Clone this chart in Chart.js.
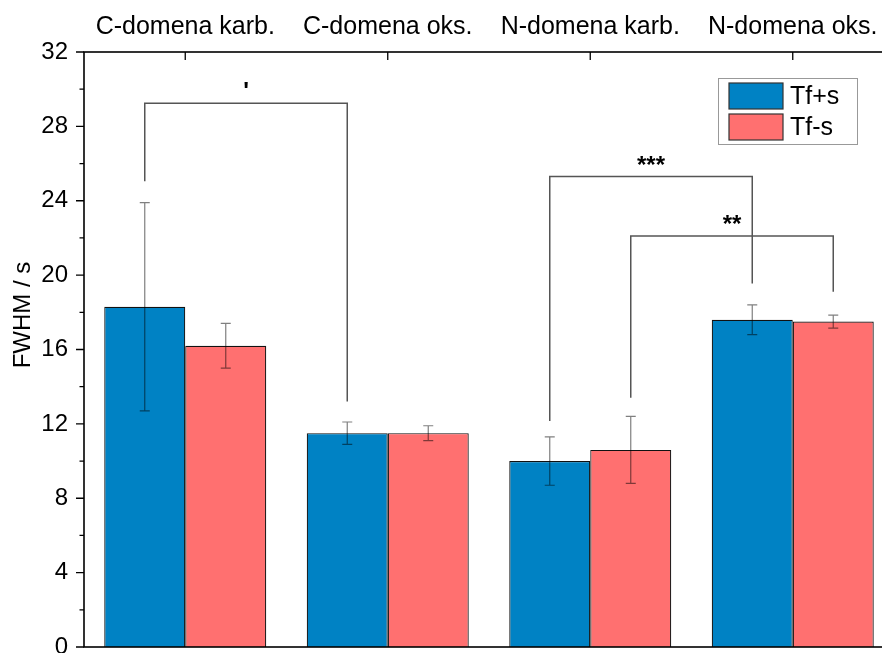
<!DOCTYPE html>
<html>
<head>
<meta charset="utf-8">
<script src="https://cdn.jsdelivr.net/npm/chart.js@4/dist/chart.umd.min.js"></script>
<style>
html, body { margin: 0; padding: 0; background: #fff; overflow: hidden; }
#wrap { width: 882px; height: 653px; overflow: hidden; }
</style>
</head>
<body>
<div id="wrap"><canvas id="fwhm-chart" width="900" height="680"></canvas></div>
<script>
const categories = ['C-domena karb.', 'C-domena oks.', 'N-domena karb.', 'N-domena oks.'];
const tfPlus = [18.3, 11.5, 10.0, 17.6];
const tfPlusErr = [5.6, 0.6, 1.3, 0.8];
const tfMinus = [16.2, 11.5, 10.6, 17.5];
const tfMinusErr = [1.2, 0.4, 1.8, 0.35];
const yMin = 0;
const yMax = 32;

// significance brackets: [dataset, index] of each leg, bar height, leg ends, label
const brackets = [
    { from: [0, 0], to: [0, 1], top: 29.25, leftEnd: 25.05, rightEnd: 13.2, label: "'" },
    { from: [0, 2], to: [0, 3], top: 25.3, leftEnd: 12.15, rightEnd: 19.55, label: '***' },
    { from: [1, 2], to: [1, 3], top: 22.1, leftEnd: 13.4, rightEnd: 19.1, label: '**' }
];

const blueColor = 'rgb(0, 130, 196)';
const redColor = 'rgb(255, 112, 112)';
const fontFamily = '"Liberation Sans", Arial, sans-serif';

const overlayPlugin = {
    id: 'overlay',
    afterDatasetsDraw(chart) {
        const ctx = chart.ctx;
        const y = chart.scales.y;

        // error bars
        const errs = [[tfPlus, tfPlusErr], [tfMinus, tfMinusErr]];
        ctx.save();
        ctx.strokeStyle = 'rgba(0, 0, 0, 0.5)';
        ctx.lineWidth = 1.2;
        errs.forEach(function (pair, d) {
            chart.getDatasetMeta(d).data.forEach(function (bar, i) {
                const hi = y.getPixelForValue(pair[0][i] + pair[1][i]);
                const lo = y.getPixelForValue(pair[0][i] - pair[1][i]);
                ctx.beginPath();
                ctx.moveTo(bar.x, hi); ctx.lineTo(bar.x, lo);
                ctx.moveTo(bar.x - 5, hi); ctx.lineTo(bar.x + 5, hi);
                ctx.moveTo(bar.x - 5, lo); ctx.lineTo(bar.x + 5, lo);
                ctx.stroke();
            });
        });

        // brackets
        ctx.strokeStyle = '#555';
        ctx.lineWidth = 1.5;
        ctx.fillStyle = '#000';
        ctx.textAlign = 'center';
        ctx.textBaseline = 'alphabetic';
        brackets.forEach(function (b) {
            const x1 = chart.getDatasetMeta(b.from[0]).data[b.from[1]].x;
            const x2 = chart.getDatasetMeta(b.to[0]).data[b.to[1]].x;
            const yt = y.getPixelForValue(b.top);
            ctx.beginPath();
            ctx.moveTo(x1, y.getPixelForValue(b.leftEnd));
            ctx.lineTo(x1, yt);
            ctx.lineTo(x2, yt);
            ctx.lineTo(x2, y.getPixelForValue(b.rightEnd));
            ctx.stroke();
            ctx.font = 'bold 24px ' + fontFamily;
            ctx.fillText(b.label, (x1 + x2) / 2, yt - 4);
        });
        ctx.restore();
    },
    afterDraw(chart) {
        const ctx = chart.ctx;
        const a = chart.chartArea;
        const x = chart.scales.x;
        const y = chart.scales.y;
        ctx.save();

        // frame
        ctx.strokeStyle = '#000';
        ctx.lineWidth = 1.6;
        ctx.strokeRect(a.left, a.top, a.right - a.left, a.bottom - a.top);

        // y ticks (outward), major every 4, minor every 2
        ctx.lineWidth = 1.3;
        ctx.beginPath();
        y.ticks.forEach(function (t) {
            const py = y.getPixelForValue(t.value);
            const len = t.value % 4 === 0 ? 8 : 4.5;
            ctx.moveTo(a.left - len, py); ctx.lineTo(a.left, py);
        });
        // x ticks (inward from top)
        x.ticks.forEach(function (t, i) {
            const px = x.getPixelForTick(i);
            ctx.moveTo(px, a.top); ctx.lineTo(px, a.top + 8);
        });
        ctx.stroke();

        // y title
        ctx.fillStyle = '#000';
        ctx.font = '24px ' + fontFamily;
        ctx.textAlign = 'center';
        ctx.textBaseline = 'middle';
        ctx.translate(23, 315);
        ctx.rotate(-Math.PI / 2);
        ctx.fillText('FWHM / s', 0, 0);
        ctx.restore();

        // legend
        ctx.save();
        const lx = a.right - 176;
        const ly = a.top + 26;
        ctx.fillStyle = '#fff';
        ctx.fillRect(lx, ly, 139, 66);
        ctx.strokeStyle = '#999';
        ctx.lineWidth = 1;
        ctx.strokeRect(lx + 0.5, ly + 0.5, 139, 66);
        const items = chart.data.datasets;
        ctx.font = '25px ' + fontFamily;
        ctx.textAlign = 'left';
        ctx.textBaseline = 'middle';
        items.forEach(function (ds, i) {
            const sy = ly + 5 + i * 31;
            ctx.fillStyle = ds.backgroundColor;
            ctx.fillRect(lx + 11, sy, 54, 26);
            ctx.strokeStyle = '#333';
            ctx.lineWidth = 1.2;
            ctx.strokeRect(lx + 11, sy, 54, 26);
            ctx.fillStyle = '#000';
            ctx.fillText(ds.label, lx + 72, sy + 14);
        });
        ctx.restore();
    }
};

new Chart(document.getElementById('fwhm-chart'), {
    type: 'bar',
    data: {
        labels: categories,
        datasets: [{
            label: 'Tf+s',
            data: tfPlus,
            backgroundColor: blueColor,
            borderColor: '#111',
            borderWidth: 1.2
        }, {
            label: 'Tf-s',
            data: tfMinus,
            backgroundColor: redColor,
            borderColor: '#111',
            borderWidth: 1.2
        }]
    },
    options: {
        responsive: false,
        animation: false,
        categoryPercentage: 0.8,
        barPercentage: 1.0,
        layout: { padding: { left: 0, top: 0, right: 6, bottom: 33 } },
        plugins: {
            legend: { display: false },
            tooltip: { enabled: false }
        },
        scales: {
            x: {
                position: 'top',
                grid: { display: false, drawTicks: false },
                border: { display: false },
                ticks: {
                    color: '#000',
                    padding: 10,
                    font: { family: fontFamily, size: 25 }
                },
                afterFit(scale) { scale.height = 52; }
            },
            y: {
                min: yMin,
                max: yMax,
                grid: { display: false, drawTicks: false },
                border: { display: false },
                ticks: {
                    stepSize: 2,
                    color: '#000',
                    padding: 16,
                    autoSkip: false,
                    font: { family: fontFamily, size: 24 },
                    callback: function (v) { return v % 4 === 0 ? v : ''; }
                },
                afterFit(scale) { scale.width = 84; }
            }
        }
    },
    plugins: [overlayPlugin]
});
</script>
</body>
</html>
